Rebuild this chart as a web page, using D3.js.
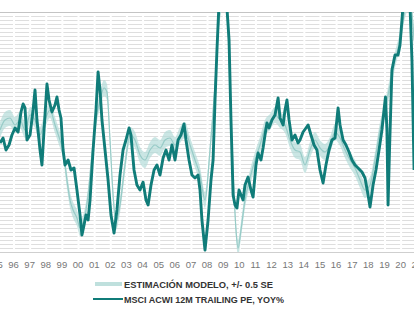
<!DOCTYPE html>
<html>
<head>
<meta charset="utf-8">
<script src="https://cdn.jsdelivr.net/npm/d3@7"></script>
<style>
  body { margin: 0; background: #fff; }
  svg { display: block; }
</style>
</head>
<body>
<div id="chart"></div>
<script>
// MSCI ACWI 12m trailing PE, YoY% (decimal years, %)
const peYears = [1995.69, 1995.88, 1996.06, 1996.25, 1996.43, 1996.62, 1996.81, 1996.99, 1997.12, 1997.24,
  1997.36, 1997.55, 1997.74, 1997.86, 1997.98, 1998.17, 1998.29, 1998.42, 1998.60, 1998.73,
  1998.91, 1999.10, 1999.22, 1999.35, 1999.47, 1999.60, 1999.72, 1999.91, 2000.09, 2000.28,
  2000.46, 2000.65, 2000.77, 2000.90, 2001.02, 2001.15, 2001.27, 2001.46, 2001.64, 2001.77,
  2001.89, 2002.01, 2002.20, 2002.39, 2002.57, 2002.76, 2002.94, 2003.13, 2003.32, 2003.50,
  2003.69, 2003.81, 2004.00, 2004.18, 2004.37, 2004.56, 2004.74, 2004.87, 2005.05, 2005.24,
  2005.42, 2005.61, 2005.80, 2005.98, 2006.17, 2006.35, 2006.54, 2006.73, 2006.91, 2007.10,
  2007.22, 2007.41, 2007.59, 2007.78, 2007.97, 2008.09, 2008.21, 2008.40, 2008.59, 2008.77,
  2008.90, 2009.02, 2009.14, 2009.27, 2009.39, 2009.52, 2009.64, 2009.76, 2009.89, 2010.01,
  2010.14, 2010.26, 2010.38, 2010.51, 2010.63, 2010.76, 2010.88, 2011.07, 2011.25, 2011.38,
  2011.56, 2011.69, 2011.87, 2012.00, 2012.12, 2012.24, 2012.37, 2012.55, 2012.74, 2012.93,
  2013.05, 2013.24, 2013.36, 2013.48, 2013.61, 2013.79, 2013.98, 2014.17, 2014.29, 2014.48,
  2014.66, 2014.79, 2014.97, 2015.16, 2015.34, 2015.53, 2015.72, 2015.90, 2016.09, 2016.27,
  2016.46, 2016.65, 2016.77, 2016.96, 2017.14, 2017.33, 2017.51, 2017.70, 2017.89, 2018.13,
  2018.32, 2018.51, 2018.63, 2018.82, 2019.00, 2019.19, 2019.37, 2019.50, 2019.59, 2019.68,
  2019.75, 2019.84, 2019.99, 2020.18, 2020.37, 2020.49, 2020.61, 2020.74, 2020.92, 2021.11,
  2021.23, 2021.36];
const peValues = [4.5, 7, 1, 3.5, 8.5, 12, 10, 20, 24, 22,
  6, 8.5, 21, 31, 16, 1, -6.5, 11, 34, 26,
  20, 23.5, 27.5, 21, 17, 1, -6.5, -4, -9, -8,
  -19, -31.5, -41.5, -36.5, -31.5, -34, -24, 1, 21, 40,
  31, 16, 1, -14, -31.5, -40.5, -29, -11.5, 1, 6,
  12, 8.5, -9, -16.5, -19, -15, -24, -26.5, -16.5, -9,
  -6.5, -11.5, -3, 1, -4, 3.5, -4, 6, 8.5, 14,
  6, -4, -11.5, -13, -11.5, -19, -34, -49, -34, -14,
  -4, 26, 51, 75, 90, 80, 88, 72, 56, 16,
  -21.5, -26.5, -28, -19, -21.5, -24, -16.5, -12.5, -19, -22.5,
  -6.5, -0.5, -4, 2, 8.5, 14.5, 12, 16, 18.5, 27,
  17, 13.5, 21, 26, 16, 6, 8.5, 4.5, 6, 10,
  12, 13.5, 8.5, 3.5, 1, -9, -15.5, -6.5, 1, 6,
  7, 22, 13.5, 6, 3.5, 0, -4, -6.5, -8, -10,
  -13, -21.5, -27.5, -16.5, -9, 1, 11, 21, 27.5, 11,
  -26.5, 1, 41, 48.5, 48.5, 53.5, 66, 80, 85, 73,
  46, -9];

// model estimate (centre), +/- 0.5 SE band
const estYears = [1995.69, 1996.00, 1996.31, 1996.62, 1996.93, 1997.24, 1997.55, 1997.86, 1998.17, 1998.48,
  1998.79, 1999.10, 1999.41, 1999.60, 1999.84, 2000.03, 2000.22, 2000.46, 2000.65, 2000.90,
  2001.15, 2001.39, 2001.64, 2001.89, 2002.14, 2002.32, 2002.51, 2002.70, 2002.88, 2003.13,
  2003.44, 2003.75, 2004.06, 2004.37, 2004.68, 2004.99, 2005.30, 2005.61, 2005.92, 2006.23,
  2006.54, 2006.85, 2007.16, 2007.47, 2007.78, 2008.09, 2008.40, 2008.71, 2009.02, 2009.27,
  2009.52, 2009.76, 2009.95, 2010.14, 2010.32, 2010.45, 2010.63, 2010.88, 2011.19, 2011.50,
  2011.81, 2012.12, 2012.43, 2012.74, 2013.05, 2013.36, 2013.67, 2013.98, 2014.29, 2014.60,
  2014.91, 2015.22, 2015.53, 2015.84, 2016.15, 2016.46, 2016.77, 2017.08, 2017.39, 2017.70,
  2018.01, 2018.32, 2018.63, 2018.94, 2019.25, 2019.56, 2019.87, 2020.18, 2020.49, 2020.80,
  2021.11, 2021.36];
const estValues = [11, 16, 17, 13.5, 16, 11, 18.5, 16, 8.5, 16,
  21, 13.5, 6, 1, -14, -24, -29, -33, -38, -34,
  -21.5, -1.5, 16, 26, 32, 30, 6, -21.5, -35, -26.5,
  -6.5, 8.5, 6, -1.5, -4, 1, 3.5, 2, 6, 7,
  3.5, 8.5, 11, 3.5, -4, -11.5, -24, 1, 33.5, 66,
  76, 71, 31, -9, -39, -48, -39, -24, -13, -4,
  3.5, 12, 15, 18.5, 16, 13.5, 6, 1, 0, -6.5,
  1, 6, 2, 0, 3.5, 10, 7, 1, -4, -8,
  -14, -19, -16.5, -4, 11, 21, 33.5, 46, 56, 71,
  76, 56];
const halfSE = 4;

const tickYears = d3.range(1995, 2022);
const legendLabels = ["ESTIMACIÓN MODELO, +/- 0.5 SE", "MSCI ACWI 12M TRAILING PE, YOY%"];

const width = 414, height = 311;
const plot = {left: 0, right: 414, top: 12, bottom: 252};

function toDate(y) {
    const yr = Math.floor(y);
    const start = new Date(yr, 0, 1), end = new Date(yr + 1, 0, 1);
    return new Date(+start + (y - yr) * (end - start));
}

const pe = peYears.map((y, i) => ({date: toDate(y), v: peValues[i]}));
const est = estYears.map((y, i) => ({date: toDate(y), v: estValues[i]}));

const svg = d3.select("#chart").append("svg")
    .attr("width", width)
    .attr("height", height);

const x = d3.scaleTime()
    .domain([new Date(1996, 0, 1), new Date(2021, 0, 1)])
    .range([5, 5 + 25 * 16.13]);

const y = d3.scaleLinear()
    .domain([-50, 70])
    .range([plot.bottom, plot.top]);

svg.append("clipPath").attr("id", "clip")
    .append("rect")
    .attr("x", plot.left).attr("y", plot.top)
    .attr("width", plot.right - plot.left)
    .attr("height", plot.bottom - plot.top);

// dashed grid
svg.append("g")
    .selectAll("line")
    .data(d3.range(-48, 70, 2))
    .enter()
    .append("line")
    .attr("x1", plot.left).attr("x2", plot.right)
    .attr("y1", d => y(d) + 0.5).attr("y2", d => y(d) + 0.5)
    .attr("stroke", "#dedede")
    .attr("stroke-width", 1)
    .attr("stroke-dasharray", "14.13 2")
    .attr("stroke-dashoffset", 1.13);

svg.append("line")
    .attr("x1", plot.left).attr("x2", plot.right)
    .attr("y1", plot.top + 0.5).attr("y2", plot.top + 0.5)
    .attr("stroke", "#c4c4c4");

const g = svg.append("g").attr("clip-path", "url(#clip)");

g.append("path")
    .datum(est)
    .attr("fill", "#b4dbd8")
    .attr("fill-opacity", 0.7)
    .attr("d", d3.area()
        .x(d => x(d.date))
        .y0(d => y(d.v - halfSE))
        .y1(d => y(d.v + halfSE))
        .curve(d3.curveMonotoneX));

g.append("path")
    .datum(est)
    .attr("fill", "none")
    .attr("stroke", "#97cbc7")
    .attr("stroke-width", 1.2)
    .attr("d", d3.line()
        .x(d => x(d.date))
        .y(d => y(d.v))
        .curve(d3.curveMonotoneX));

g.append("path")
    .datum(pe)
    .attr("fill", "none")
    .attr("stroke", "#107c79")
    .attr("stroke-width", 2.9)
    .attr("stroke-linejoin", "round")
    .attr("d", d3.line()
        .x(d => x(d.date))
        .y(d => y(d.v)));

svg.append("line")
    .attr("x1", plot.left).attr("x2", plot.right)
    .attr("y1", plot.bottom + 0.5).attr("y2", plot.bottom + 0.5)
    .attr("stroke", "#cfcfcf");

// year labels sit mid-year
const xAxis = svg.append("g")
    .attr("transform", "translate(0," + plot.bottom + ")")
    .call(d3.axisBottom(x)
        .tickValues(tickYears.map(yr => new Date(yr, 6, 1)))
        .tickFormat(d3.timeFormat("%y"))
        .tickSize(0)
        .tickPadding(9));
xAxis.select(".domain").remove();
xAxis.selectAll("text")
    .attr("fill", "#777")
    .style("font-family", "'Liberation Sans', Arial, sans-serif")
    .style("font-size", "9.5px");

// legend
const legendWidths = [149, 160];
const legend = svg.append("g");
legend.append("line")
    .attr("x1", 95).attr("x2", 122).attr("y1", 284).attr("y2", 284)
    .attr("stroke", "#bfe0dd").attr("stroke-width", 4);
legend.append("line")
    .attr("x1", 93).attr("x2", 123).attr("y1", 299).attr("y2", 299)
    .attr("stroke", "#107c79").attr("stroke-width", 2);
legend.selectAll("text")
    .data(legendLabels)
    .enter()
    .append("text")
    .attr("x", 124)
    .attr("y", (d, i) => 287.5 + i * 15)
    .attr("fill", "#333")
    .attr("textLength", (d, i) => legendWidths[i])
    .attr("lengthAdjust", "spacingAndGlyphs")
    .style("font-family", "'Liberation Sans', Arial, sans-serif")
    .style("font-weight", "bold")
    .style("font-size", "8.5px")
    .text(d => d);
</script>
</body>
</html>
